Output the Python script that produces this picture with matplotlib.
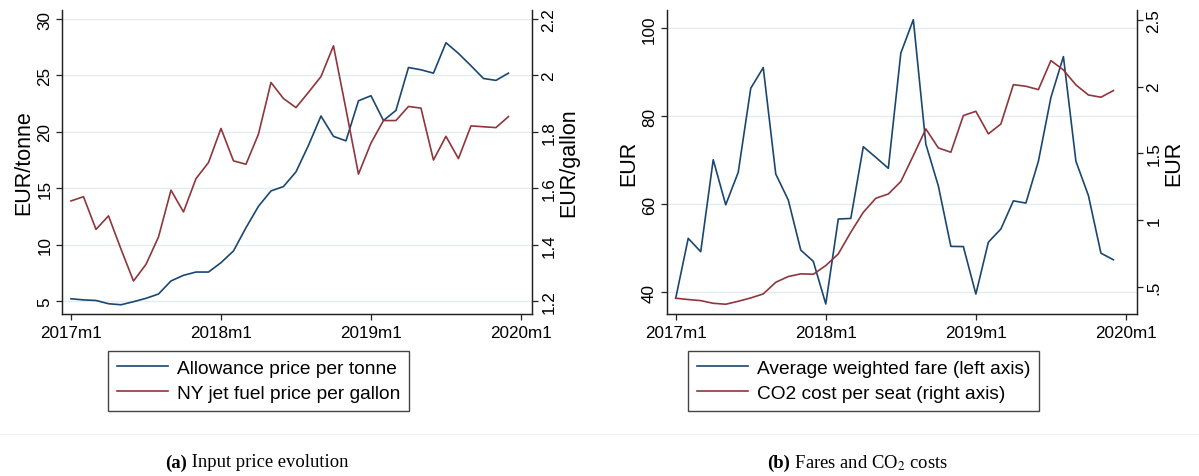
import matplotlib
matplotlib.use("Agg")
import matplotlib.pyplot as plt

plt.rcParams['font.family'] = ['Liberation Sans', 'DejaVu Sans']
plt.rcParams['mathtext.fontset'] = 'stix'

# monthly data, 2017m1 .. 2019m12
month_idx = list(range(36))
xtick_pos = [0, 12, 24, 36]
xtick_labels = ['2017m1', '2018m1', '2019m1', '2020m1']

allowance = [5.2, 5.1, 5.05, 4.76, 4.67, 4.94, 5.24, 5.62, 6.78, 7.28, 7.57, 7.57,
             8.4, 9.44, 11.5, 13.4, 14.76, 15.15, 16.45, 18.8, 21.4, 19.6, 19.2, 22.75,
             23.2, 21.0, 21.9, 25.7, 25.5, 25.2, 27.9, 26.95, 25.86, 24.73, 24.56, 25.2]
jet_fuel = [1.555, 1.570, 1.454, 1.502, 1.384, 1.271, 1.33, 1.427, 1.593, 1.516, 1.634, 1.691,
            1.812, 1.697, 1.685, 1.792, 1.975, 1.918, 1.886, 1.94, 1.996, 2.105, 1.88, 1.650,
            1.76, 1.84, 1.84, 1.89, 1.884, 1.70, 1.784, 1.705, 1.821, 1.818, 1.815, 1.854]
fare = [38.64, 52.27, 49.24, 70.15, 59.9, 67.3, 86.4, 91.1, 66.9, 61.0, 49.6, 47.05,
        37.35, 56.67, 56.8, 73.1, 70.7, 68.2, 94.4, 102.0, 73.7, 64.2, 50.45, 50.4,
        39.6, 51.4, 54.4, 60.8, 60.3, 69.8, 84.3, 93.6, 69.8, 62.0, 48.9, 47.4]
co2_seat = [0.418, 0.408, 0.40, 0.38, 0.373, 0.395, 0.42, 0.45, 0.537, 0.58, 0.60, 0.597,
            0.662, 0.749, 0.911, 1.06, 1.165, 1.197, 1.29, 1.484, 1.683, 1.541, 1.509, 1.783,
            1.815, 1.646, 1.72, 2.014, 2.002, 1.977, 2.194, 2.124, 2.012, 1.937, 1.92, 1.97]

a_left_ticks = [5, 10, 15, 20, 25, 30]
a_right_ticks = [1.2, 1.4, 1.6, 1.8, 2.0, 2.2]
a_right_labels = ['1.2', '1.4', '1.6', '1.8', '2', '2.2']
b_left_ticks = [40, 60, 80, 100]
b_right_ticks = [0.5, 1.0, 1.5, 2.0, 2.5]
b_right_labels = ['.5', '1', '1.5', '2', '2.5']

BLUE = '#1a476f'
RED = '#90353b'
GRID = '#e3edf0'
AXC = '#222222'
W, H = 1199, 477


def style_axes(ax, twin):
    ax.set_xlim(-0.72, 36.86)
    ax.set_xticks(xtick_pos)
    ax.set_xticklabels(xtick_labels)
    ax.spines['top'].set_visible(False)
    twin.spines['top'].set_visible(False)
    for sp in ['left', 'bottom', 'right']:
        ax.spines[sp].set_color(AXC)
        twin.spines[sp].set_color(AXC)
        ax.spines[sp].set_linewidth(0.9)
        twin.spines[sp].set_linewidth(0.9)
    ax.tick_params(axis='x', length=4, width=0.9, color=AXC, labelsize=12.3, pad=4)
    ax.tick_params(axis='y', length=4, width=0.9, color=AXC, labelsize=12.3, pad=3)
    twin.tick_params(axis='y', length=4, width=0.9, color=AXC, labelsize=12.3, pad=3)
    for lab in ax.get_yticklabels():
        lab.set_rotation(90)
        lab.set_va('center')
    for lab in twin.get_yticklabels():
        lab.set_rotation(90)
        lab.set_va('center')
    ax.yaxis.grid(True, color=GRID, linewidth=1.0)
    ax.set_axisbelow(True)


def caption(xc, bold, rest):
    t1 = fig.text(xc, 1 - 463 / H, bold, fontsize=13.4, fontweight='bold',
                  family='Liberation Serif', ha='right', va='center')
    fig.text(xc, 1 - 463 / H, rest, fontsize=13.4, family='Liberation Serif',
             ha='left', va='center')
    return t1


def add_legend(handles, labels, xc):
    fig.legend(handles, labels, loc='upper center', bbox_to_anchor=(xc / W, 1 - 352 / H),
               fontsize=13.8, frameon=True, fancybox=False, edgecolor='#444444',
               handlelength=2.7, handletextpad=0.45, borderpad=0.45, labelspacing=0.4,
               borderaxespad=0, framealpha=1)


fig = plt.figure(figsize=(W / 100, H / 100), dpi=100)

# (a) input prices
ax1 = fig.add_axes([62 / W, 1 - 315 / H, 469.7 / W, 304 / H])
ax1r = ax1.twinx()
l1, = ax1.plot(month_idx, allowance, color=BLUE, lw=1.2)
l2, = ax1r.plot(month_idx, jet_fuel, color=RED, lw=1.2)
ax1.set_ylim(3.85, 30.8)
ax1r.set_ylim(1.154, 2.232)
ax1.set_yticks(a_left_ticks)
ax1r.set_yticks(a_right_ticks)
ax1r.set_yticklabels(a_right_labels)
style_axes(ax1, ax1r)
ax1.set_ylabel('EUR/tonne', fontsize=15.5, labelpad=2)
ax1r.set_ylabel('EUR/gallon', fontsize=15.5, labelpad=1, rotation=90)
add_legend([l1, l2], ['Allowance price per tonne', 'NY jet fuel price per gallon'], 258.5)

# (b) fares and CO2 costs
ax2 = fig.add_axes([666.7 / W, 1 - 315 / H, 470 / W, 304 / H])
ax2r = ax2.twinx()
l3, = ax2.plot(month_idx, fare, color=BLUE, lw=1.2)
l4, = ax2r.plot(month_idx, co2_seat, color=RED, lw=1.2)
ax2.set_ylim(35.07, 104.2)
ax2r.set_ylim(0.30, 2.572)
ax2.set_yticks(b_left_ticks)
ax2r.set_yticks(b_right_ticks)
ax2r.set_yticklabels(b_right_labels)
style_axes(ax2, ax2r)
ax2.set_ylabel('EUR', fontsize=15.5, labelpad=2)
ax2r.set_ylabel('EUR', fontsize=15.5, labelpad=1, rotation=90)
add_legend([l3, l4], ['Average weighted fare (left axis)', 'CO2 cost per seat (right axis)'], 863.5)

# faint graph region border
fig.add_artist(plt.Line2D([0, 1], [1 - 435 / H, 1 - 435 / H], color='#f2f2f2', lw=0.8))

caption(187 / W, '(a)', ' Input price evolution')
caption(790 / W, '(b)', ' Fares and CO$_2$ costs')

fig.savefig('out.png', dpi=100, facecolor='white')
